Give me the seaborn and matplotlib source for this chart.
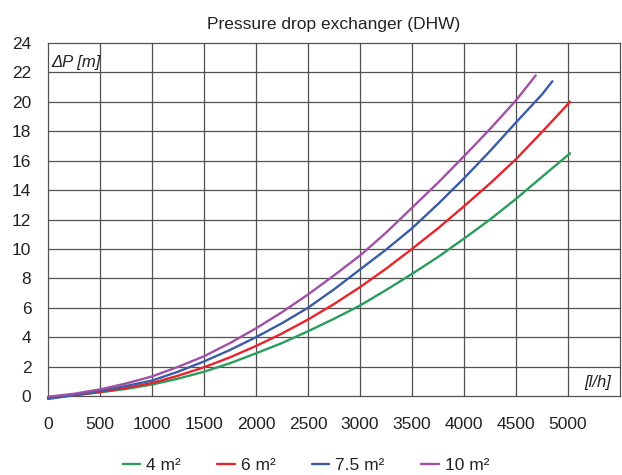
import matplotlib
matplotlib.use("Agg")
import matplotlib.pyplot as plt
import seaborn as sns
import pandas as pd

# ---- data ----
flow_4 = [0, 250, 500, 750, 1000, 1250, 1500, 1750, 2000, 2250, 2500, 2750,
          3000, 3250, 3500, 3750, 4000, 4250, 4500, 4750, 5020]
dp_4 = [-0.1, 0.05, 0.25, 0.48, 0.78, 1.18, 1.65, 2.23, 2.9, 3.6, 4.4, 5.25,
        6.15, 7.2, 8.3, 9.45, 10.7, 12.0, 13.4, 14.9, 16.5]

flow_6 = [0, 250, 500, 750, 1000, 1250, 1500, 1750, 2000, 2250, 2500, 2750,
          3000, 3250, 3500, 3750, 4000, 4250, 4500, 4750, 5020]
dp_6 = [-0.1, 0.05, 0.28, 0.55, 0.88, 1.38, 1.95, 2.63, 3.4, 4.25, 5.2, 6.25,
        7.4, 8.65, 10.0, 11.4, 12.9, 14.45, 16.1, 17.95, 20.0]

flow_75 = [0, 250, 500, 750, 1000, 1250, 1500, 1750, 2000, 2250, 2500, 2750,
           3000, 3250, 3500, 3750, 4000, 4250, 4500, 4750, 4850]
dp_75 = [-0.2, 0.05, 0.35, 0.68, 1.05, 1.65, 2.35, 3.13, 4.0, 4.95, 6.0, 7.25,
         8.6, 9.95, 11.4, 13.05, 14.8, 16.65, 18.6, 20.5, 21.4]

flow_10 = [0, 250, 500, 750, 1000, 1250, 1500, 1750, 2000, 2250, 2500, 2750,
           3000, 3250, 3500, 3750, 4000, 4250, 4500, 4690]
dp_10 = [-0.05, 0.15, 0.45, 0.85, 1.33, 1.98, 2.7, 3.6, 4.6, 5.7, 6.9, 8.2,
         9.55, 11.1, 12.8, 14.5, 16.3, 18.15, 20.1, 21.8]

series_labels = ["4 m²", "6 m²", "7.5 m²", "10 m²"]
series_colors = ["#2a9c5c", "#e8232b", "#3a5ba6", "#a150a4"]
x_ticks = [0, 500, 1000, 1500, 2000, 2500, 3000, 3500, 4000, 4500, 5000]
y_ticks = [0, 2, 4, 6, 8, 10, 12, 14, 16, 18, 20, 22, 24]
title = "Pressure drop exchanger (DHW)"

frames = []
for lab, xs, ys in zip(series_labels,
                       [flow_4, flow_6, flow_75, flow_10],
                       [dp_4, dp_6, dp_75, dp_10]):
    frames.append(pd.DataFrame({"flow": xs, "dp": ys, "area": lab}))
df = pd.concat(frames, ignore_index=True)

sns.set_style("white")
plt.rcParams["font.family"] = ["Liberation Sans Narrow", "Liberation Sans", "DejaVu Sans"]

fig = plt.figure(figsize=(6.22, 4.75), dpi=100)
ax = fig.add_axes([48 / 622, 1 - 396 / 475, (620 - 48) / 622, (396 - 43) / 475])

grid_c = "#505050"
for xv in x_ticks[1:]:
    ax.axvline(xv, color=grid_c, lw=0.9, zorder=1)
for yv in y_ticks[1:-1]:
    ax.axhline(yv, color=grid_c, lw=0.9, zorder=1)

sns.lineplot(data=df, x="flow", y="dp", hue="area", hue_order=series_labels,
             palette=series_colors, linewidth=1.7, ax=ax, legend=False,
             sort=False, zorder=3, clip_on=False)

ax.set_xlim(0, 5500)
ax.set_ylim(0, 24)
ax.set_xticks(x_ticks)
ax.set_yticks(y_ticks)
ax.set_xticklabels([str(v) for v in x_ticks])
ax.set_yticklabels([str(v) for v in y_ticks])
ax.tick_params(axis="both", labelsize=12.5, colors="#222222", length=3,
               width=0.9, direction="out", color=grid_c)
ax.tick_params(axis="y", pad=9)
ax.tick_params(axis="x", pad=12)
for s in ax.spines.values():
    s.set_color(grid_c)
    s.set_linewidth(0.9)
    s.set_visible(True)
ax.set_xlabel("")
ax.set_ylabel("")

ax.set_title(title, fontsize=12.5, pad=10, color="#222222")

ax.text(0.006, 0.945, "ΔP [m]", transform=ax.transAxes, fontsize=12,
        style="italic", ha="left", va="center", color="#222222")
ax.text(0.985, 0.038, "[l/h]", transform=ax.transAxes, fontsize=12,
        style="italic", ha="right", va="center", color="#222222")

handles = [plt.Line2D([0], [0], color=c, lw=1.7) for c in series_colors]
fig.legend(handles, series_labels, loc="center", ncol=4,
           bbox_to_anchor=(306 / 622, 1 - 465 / 475), frameon=False,
           fontsize=12.5, handlelength=1.0, handletextpad=0.35,
           columnspacing=2.1, labelcolor="#222222")

fig.savefig("out.png", dpi=100)
